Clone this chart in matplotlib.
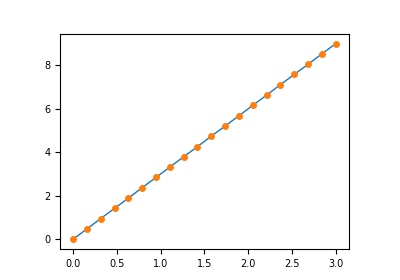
import matplotlib
matplotlib.use('Agg')
import matplotlib.pyplot as plt

# values
x = [0.0, 0.158, 0.316, 0.474, 0.632, 0.789, 0.947, 1.105, 1.263, 1.421,
     1.579, 1.737, 1.895, 2.053, 2.211, 2.368, 2.526, 2.684, 2.842, 3.0]
y = [0.0, 0.47, 0.95, 1.42, 1.89, 2.37, 2.84, 3.32, 3.79, 4.26,
     4.74, 5.21, 5.68, 6.16, 6.63, 7.11, 7.58, 8.05, 8.53, 9.0]

fig, ax = plt.subplots(figsize=(4, 2.8), dpi=100)
fig.subplots_adjust(left=0.15, right=0.872, top=0.879, bottom=0.111)
ax.plot(x, y, color='C0', linewidth=1)
ax.plot(x, y, 'o', color='C1', markersize=4)
ax.tick_params(labelsize=7)

plt.savefig('out.png')
